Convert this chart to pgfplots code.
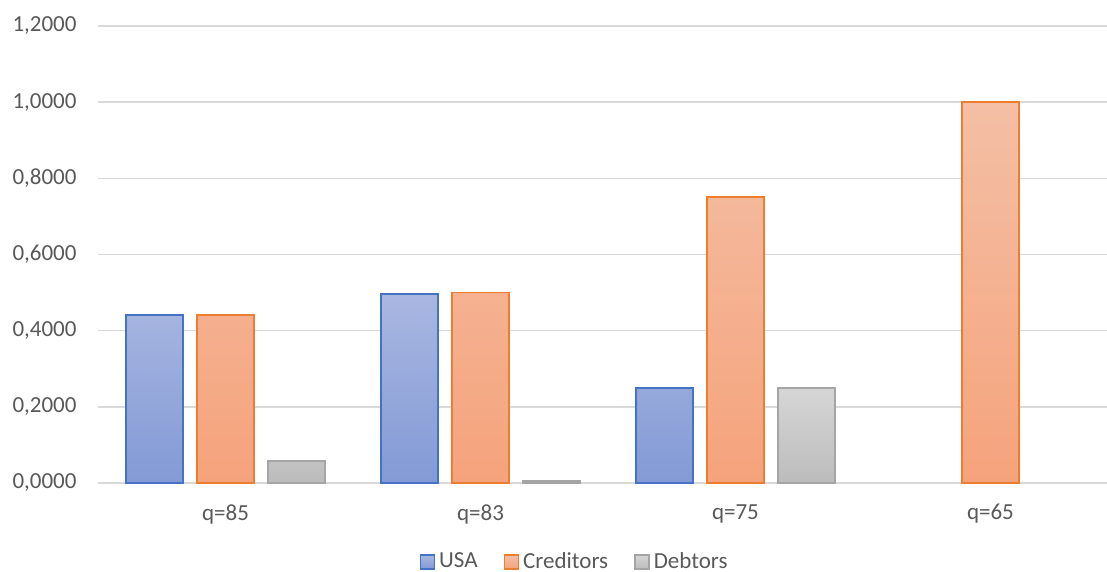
\documentclass[border=0pt]{standalone}
\usepackage{fontspec}
\setmainfont{Carlito}
\usepackage{pgfplots}
\pgfplotsset{compat=1.18}

\definecolor{usaline}{HTML}{4472C4}
\definecolor{usatop}{HTML}{A9B7E1}
\definecolor{usabot}{HTML}{839AD6}
\definecolor{credline}{HTML}{ED7D31}
\definecolor{credtop}{HTML}{F4BFA5}
\definecolor{credbot}{HTML}{F5A37C}
\definecolor{debline}{HTML}{A5A5A5}
\definecolor{debtop}{HTML}{D6D6D6}
\definecolor{debbot}{HTML}{BCBCBC}
\definecolor{txt}{HTML}{595959}
\definecolor{grid}{HTML}{D9D9D9}

\begin{document}
\begin{tikzpicture}
\begin{axis}[
  at={(0,0)}, anchor=south west,
  scale only axis,
  width=504.5pt, height=228.5pt,
  ybar=7pt, bar width=28.5pt,
  xmin=-0.5, xmax=3.457,
  ymin=0, ymax=1.2,
  xtick={0,1,2,3},
  xticklabels={q=85,q=83,q=75,q=65},
  ytick={0,0.2,0.4,0.6,0.8,1.0,1.2},
  yticklabel style={
    /pgf/number format/.cd, fixed, fixed zerofill, precision=4,
    use comma, 1000 sep={}, assume math mode=true,
    /tikz/.cd, anchor=east, xshift=-7.2pt},
  xticklabel style={anchor=north, yshift=-7.2pt},
  tick label style={font=\fontsize{11.5}{14}\selectfont, text=txt},
  major tick length=0pt,
  axis x line*=bottom,
  axis y line*=left,
  x axis line style={draw=grid, line width=0.75pt, -},
  y axis line style={draw=none, -},
  ymajorgrids,
  grid style={draw=grid, line width=0.75pt},
  legend columns=3,
  legend style={
    at={(axis description cs:0.4733,-0.1729)}, anchor=center,
    draw=none, fill=none,
    font=\fontsize{11.5}{14}\selectfont, text=txt,
    /tikz/every even column/.append style={column sep=11pt},
    inner sep=0pt},
  legend image code/.code={
    \draw[#1, line width=0.8pt] (0pt,-3.5pt) rectangle (7pt,3.5pt);},
  clip=false,
]
% USA (no bar at q=65, value 0)
\addplot[draw=usaline, line width=0.9pt, top color=usatop, bottom color=usabot]
  coordinates {(0,0.4412) (1,0.4954) (2,0.25)};
% Creditors
\addplot[draw=credline, line width=0.9pt, top color=credtop, bottom color=credbot]
  coordinates {(0,0.4412) (1,0.5) (2,0.75) (3,1.0)};
% Debtors (no bar at q=65, value 0)
\addplot[draw=debline, line width=0.9pt, top color=debtop, bottom color=debbot]
  coordinates {(0,0.0588) (1,0.0046) (2,0.25)};
\legend{USA,Creditors,Debtors}
\end{axis}
\pgfresetboundingbox
\path[use as bounding box] (-49pt,-44.5pt) rectangle (504.5pt,241.5pt);
\end{tikzpicture}
\end{document}
